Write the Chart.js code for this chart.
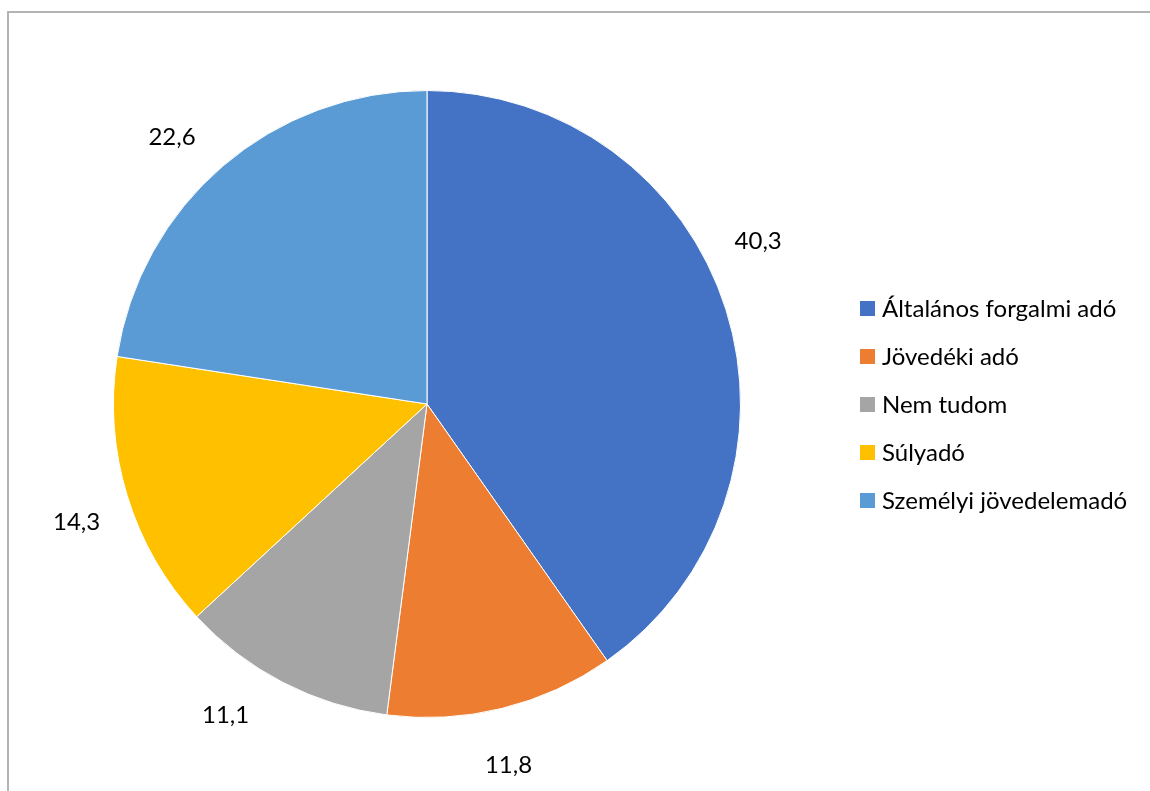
<!DOCTYPE html>
<html>
<head>
<meta charset="utf-8">
<script src="https://cdn.jsdelivr.net/npm/chart.js@4.4.1/dist/chart.umd.min.js"></script>
<style>
  html, body { margin: 0; padding: 0; background: #fff; overflow: hidden; }
  #wrap { width: 1150px; height: 791px; position: relative; }
</style>
</head>
<body>
<div id="wrap"><canvas id="pie"></canvas></div>
<script>
const categories = ['Általános forgalmi adó', 'Jövedéki adó', 'Nem tudom', 'Súlyadó', 'Személyi jövedelemadó'];
const values = [40.3, 11.8, 11.1, 14.3, 22.6];
const colors = ['#4472C4', '#ED7D31', '#A5A5A5', '#FFC000', '#5B9BD5'];

const FONT = 'Lato, "Noto Sans", sans-serif';

// small angle shifts (degrees) to mimic the best-fit label placement
const labelNudge = [-8.8, 1.1, 5.7, -1.5, -3];

// frame: only left and top edges are visible in the window
const framePlugin = {
    id: 'frame',
    beforeDraw(chart) {
        const ctx = chart.ctx;
        ctx.save();
        ctx.strokeStyle = '#b4b4b4';
        ctx.lineWidth = 2;
        ctx.beginPath();
        ctx.moveTo(8, 800);
        ctx.lineTo(8, 12);
        ctx.lineTo(1160, 12);
        ctx.stroke();
        ctx.restore();
    }
};

// value labels outside each slice
const outsideLabels = {
    id: 'outsideLabels',
    afterDatasetsDraw(chart) {
        const ctx = chart.ctx;
        const meta = chart.getDatasetMeta(0);
        ctx.save();
        ctx.font = '24px ' + FONT;
        ctx.fillStyle = '#000';
        ctx.textAlign = 'center';
        ctx.textBaseline = 'middle';
        meta.data.forEach(function (arc, i) {
            const p = arc.getProps(['x', 'y', 'startAngle', 'endAngle', 'outerRadius'], true);
            const mid = (p.startAngle + p.endAngle) / 2 + labelNudge[i] * Math.PI / 180;
            const r = p.outerRadius + 56;
            const txt = values[i].toFixed(1).replace('.', ',');
            ctx.fillText(txt, p.x + Math.cos(mid) * r, p.y + Math.sin(mid) * r + 1);
        });
        ctx.restore();
    }
};

// legend on the right
const sideLegend = {
    id: 'sideLegend',
    afterDraw(chart) {
        const ctx = chart.ctx;
        ctx.save();
        ctx.font = '24px ' + FONT;
        ctx.textBaseline = 'middle';
        ctx.textAlign = 'left';
        chart.data.labels.forEach(function (lab, i) {
            const y = 308.5 + i * 48;
            ctx.fillStyle = chart.data.datasets[0].backgroundColor[i];
            ctx.fillRect(860, y - 7.5, 15, 15);
            ctx.fillStyle = '#000';
            ctx.fillText(lab, 882, y + 1);
        });
        ctx.restore();
    }
};

new Chart(document.getElementById('pie'), {
    type: 'pie',
    data: {
        labels: categories,
        datasets: [{
            data: values,
            backgroundColor: colors,
            borderColor: '#ffffff',
            borderWidth: 1
        }]
    },
    options: {
        responsive: true,
        maintainAspectRatio: false,
        animation: false,
        layout: { padding: { left: 113, right: 409, top: 90, bottom: 73 } },
        plugins: {
            legend: { display: false },
            tooltip: { enabled: false }
        }
    },
    plugins: [framePlugin, outsideLabels, sideLegend]
});
</script>
</body>
</html>
